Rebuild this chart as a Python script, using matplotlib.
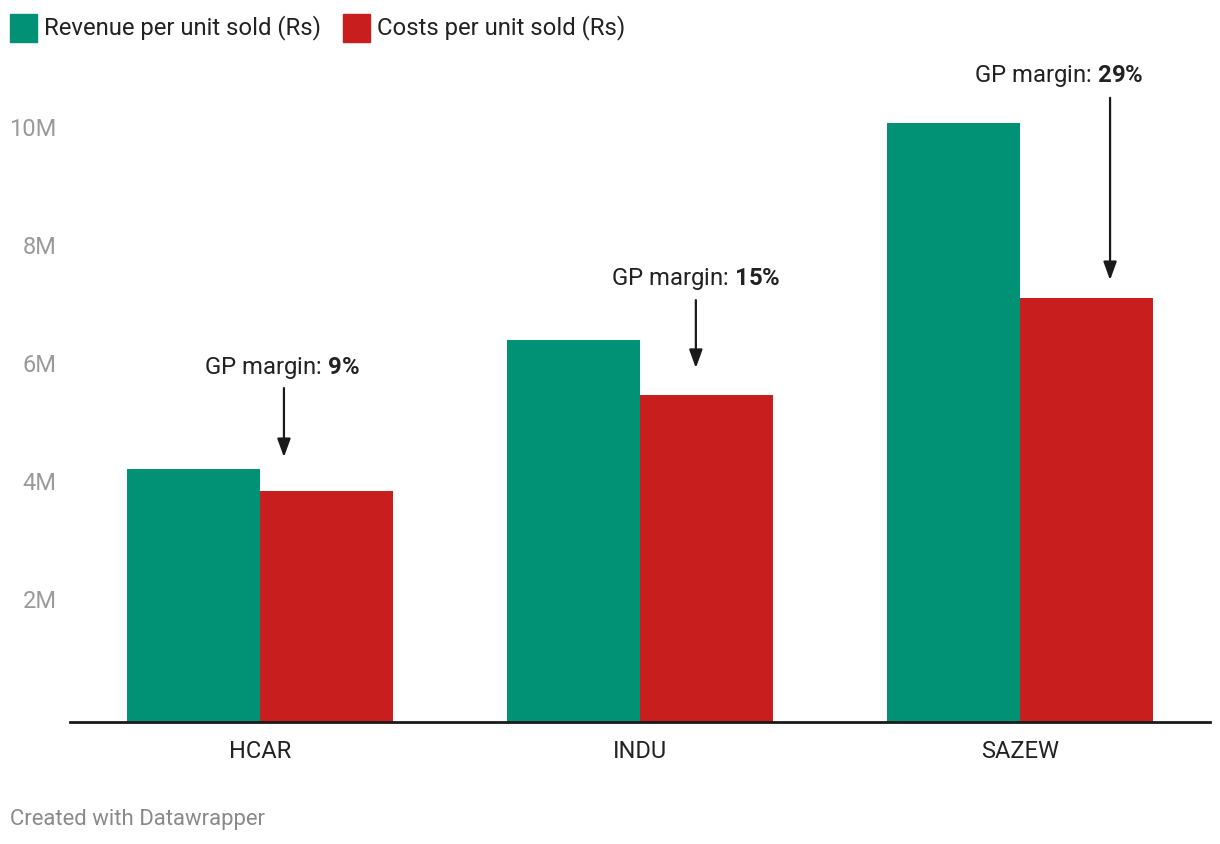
import matplotlib.pyplot as plt
import numpy as np

# -----------------------------
# Data
# -----------------------------

companies = ["HCAR", "INDU", "SAZEW"]
revenue = [4.29, 6.47, 10.15]   # Rs, millions
costs = [3.92, 5.54, 7.19]
margins = ["9%", "15%", "29%"]

# annotation placement (x offset from category, arrow tip / tail / label y in M)
arrow_x = [0.063, 1.147, 2.237]
label_x = [0.058, 1.147, 2.101]
arrow_tip = [4.49, 6.00, 7.49]
arrow_tail = [5.66, 7.15, 10.58]
label_y = [6.00, 7.51, 10.95]

y_ticks = [2, 4, 6, 8, 10]

GREEN = "#019174"
RED = "#c91e1e"

plt.rcParams["font.family"] = ["Roboto", "DejaVu Sans"]
plt.rcParams["mathtext.fontset"] = "custom"
plt.rcParams["mathtext.rm"] = "Roboto"
plt.rcParams["mathtext.bf"] = "Roboto:bold"

W, H = 1220, 844
fig = plt.figure(figsize=(W / 100, H / 100), dpi=100)
ax = fig.add_axes([70 / W, (H - 722) / H, 1140 / W, (722 - 40) / H])

x = np.arange(len(companies))
bw = 0.35
ax.bar(x - bw / 2, revenue, bw, color=GREEN, linewidth=0)
ax.bar(x + bw / 2, costs, bw, color=RED, linewidth=0)

ax.set_xlim(-0.5, 2.5)
ax.set_ylim(0, (722 - 40) / 59.0)

for s in ["top", "right", "left"]:
    ax.spines[s].set_visible(False)
ax.spines["bottom"].set_color("#1a1a1a")
ax.spines["bottom"].set_linewidth(2)

ax.set_xticks(x)
ax.set_xticklabels(companies, fontsize=17, color="#222222")
ax.tick_params(axis="x", length=0, pad=13)

ax.set_yticks([])
for t in y_ticks:
    ax.text(-0.535, t + 0.04, f"{t}M", ha="right", va="center",
            fontsize=17, color="#9a9a9a")

# GP margin annotations
for i in range(len(companies)):
    ax.annotate("", xy=(arrow_x[i], arrow_tip[i]), xytext=(arrow_x[i], arrow_tail[i]),
                arrowprops=dict(arrowstyle="-|>,head_length=1.1,head_width=0.4",
                                color="#1a1a1a", lw=1.6, shrinkA=0, shrinkB=0))
    ax.text(label_x[i], label_y[i], "GP margin: $\\bf{" + margins[i].replace("%", "\\%") + "}$",
            ha="center", va="center", fontsize=17.2, color="#222222")

# Legend
fig.patches.append(plt.Rectangle((10 / W, (H - 42) / H), 27 / W, 28 / H,
                                 transform=fig.transFigure, color=GREEN))
fig.text(44 / W, (H - 28) / H, "Revenue per unit sold (Rs)", ha="left", va="center",
         fontsize=17.2, color="#222222")
fig.patches.append(plt.Rectangle((343 / W, (H - 42) / H), 27 / W, 28 / H,
                                 transform=fig.transFigure, color=RED))
fig.text(377 / W, (H - 28) / H, "Costs per unit sold (Rs)", ha="left", va="center",
         fontsize=17.2, color="#222222")

fig.text(10 / W, (H - 820) / H, "Created with Datawrapper", ha="left", va="center",
         fontsize=15.9, color="#8a8a8a")

plt.savefig("out.png", dpi=100)
